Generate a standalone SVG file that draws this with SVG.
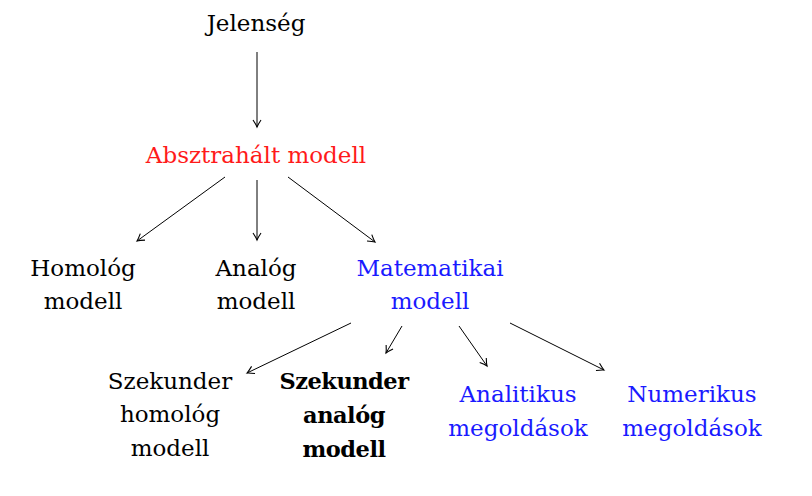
<svg xmlns="http://www.w3.org/2000/svg" width="812" height="496" viewBox="0 0 812 496">
<style>
text{font-family:"DejaVu Serif","Liberation Serif",serif;font-size:23px;text-anchor:middle;fill:#000}
.red{fill:#ff1a1a}
.blue{fill:#1a1aff}
.b{font-weight:bold;font-size:22.5px;letter-spacing:-0.5px}
.c line{stroke:#000;stroke-width:1;marker-end:url(#ah)}
</style>
<defs>
<marker id="ah" viewBox="-9 -5 11 10" refX="0" refY="0" markerWidth="11" markerHeight="10" markerUnits="userSpaceOnUse" orient="auto">
<path d="M-7,-4 Q-2.5,-1 0,0 Q-2.5,1 -7,4" fill="none" stroke="#000" stroke-width="1.1"/>
</marker>
</defs>
<rect width="812" height="496" fill="#fff"/>
<g class="c">
<line x1="257" y1="52" x2="257" y2="127"/>
<line x1="225" y1="177" x2="137" y2="241"/>
<line x1="257" y1="180" x2="257" y2="240"/>
<line x1="288" y1="177" x2="375" y2="242"/>
<line x1="351" y1="323" x2="247" y2="373"/>
<line x1="402" y1="326" x2="386" y2="353"/>
<line x1="459" y1="326" x2="487" y2="366"/>
<line x1="510" y1="323" x2="604" y2="370"/>
</g>
<g id="jelenseg"><text x="256" y="31">Jelenség</text></g>
<g id="absztrahalt"><text class="red" x="256" y="163">Absztrahált modell</text></g>
<g id="homolog"><text x="83" y="276">Homológ</text><text x="83" y="309">modell</text></g>
<g id="analog"><text x="256" y="276">Analóg</text><text x="256" y="309">modell</text></g>
<g id="matematikai"><text class="blue" x="430" y="276">Matematikai</text><text class="blue" x="430" y="309">modell</text></g>
<g id="szek-homolog"><text x="170" y="389">Szekunder</text><text x="170" y="422">homológ</text><text x="170" y="456">modell</text></g>
<g id="szek-analog"><text class="b" x="344" y="389">Szekunder</text><text class="b" x="344" y="423">analóg</text><text class="b" x="344" y="457">modell</text></g>
<g id="analitikus"><text class="blue" x="518" y="402">Analitikus</text><text class="blue" x="518" y="436">megoldások</text></g>
<g id="numerikus"><text class="blue" x="692" y="402">Numerikus</text><text class="blue" x="692" y="436">megoldások</text></g>
</svg>
